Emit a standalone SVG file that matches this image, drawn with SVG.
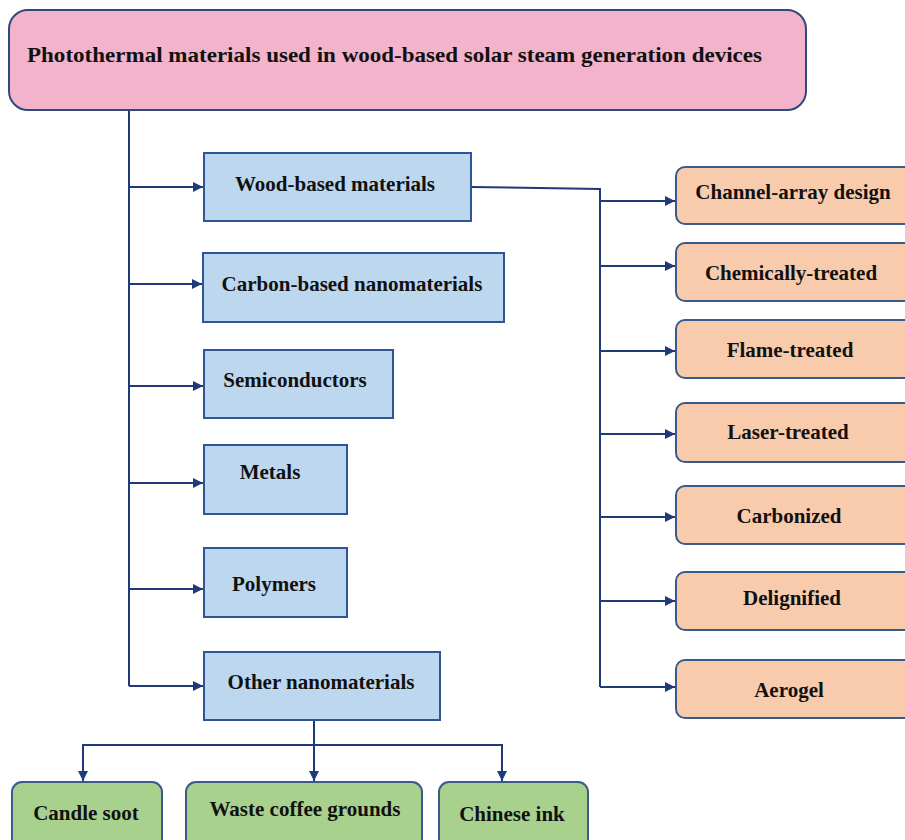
<svg xmlns="http://www.w3.org/2000/svg" width="905" height="840" viewBox="0 0 905 840">
<style>
text{font-family:"Liberation Serif","Times New Roman",serif;font-weight:bold;font-size:21px;fill:#111;text-anchor:middle}
.root{fill:#F2B3CB;stroke:#2E4A7D;stroke-width:2}
.blue{fill:#BDD7EE;stroke:#2F5597;stroke-width:2}
.orange{fill:#F8CBAD;stroke:#3A5A8C;stroke-width:2}
.green{fill:#A9D18E;stroke:#3A5A8C;stroke-width:2}
.con{fill:none;stroke:#1F3A78;stroke-width:2}
</style>
<defs>
<marker id="ah" viewBox="0 0 10 10" refX="10" refY="5" markerWidth="5" markerHeight="5" orient="auto" markerUnits="strokeWidth">
<path d="M0,0 L10,5 L0,10 z" fill="#1F3A78"/>
</marker>
</defs>
<rect width="905" height="840" fill="#fff"/>
<g id="connectors">
<path class="con" d="M129,111 V686"/>
<path class="con" d="M129,187 H203" marker-end="url(#ah)"/>
<path class="con" d="M129,284 H202" marker-end="url(#ah)"/>
<path class="con" d="M129,386 H203" marker-end="url(#ah)"/>
<path class="con" d="M129,483 H203" marker-end="url(#ah)"/>
<path class="con" d="M129,589 H203" marker-end="url(#ah)"/>
<path class="con" d="M129,686 H203" marker-end="url(#ah)"/>
<path class="con" d="M471,187 L600,189 V687"/>
<path class="con" d="M600,201 H675" marker-end="url(#ah)"/>
<path class="con" d="M600,266 H675" marker-end="url(#ah)"/>
<path class="con" d="M600,351 H675" marker-end="url(#ah)"/>
<path class="con" d="M600,434 H675" marker-end="url(#ah)"/>
<path class="con" d="M600,517 H675" marker-end="url(#ah)"/>
<path class="con" d="M600,601 H675" marker-end="url(#ah)"/>
<path class="con" d="M600,687 H675" marker-end="url(#ah)"/>
<path class="con" d="M314,720 V781" marker-end="url(#ah)"/>
<path class="con" d="M83,765 V745 H502 V765"/>
<path class="con" d="M83,760 V781" marker-end="url(#ah)"/>
<path class="con" d="M502,760 V781" marker-end="url(#ah)"/>
</g>
<g id="root">
<rect class="root" x="9" y="10" width="797" height="100" rx="19"/>
<text x="27" y="62" style="text-anchor:start" textLength="735" lengthAdjust="spacingAndGlyphs">Photothermal materials used in wood-based solar steam generation devices</text>
</g>
<g id="wood"><rect class="blue" x="204" y="153" width="267" height="68"/><text x="335" y="191">Wood-based materials</text></g>
<g id="carbon"><rect class="blue" x="203" y="253" width="301" height="69"/><text x="352" y="291">Carbon-based nanomaterials</text></g>
<g id="semi"><rect class="blue" x="204" y="350" width="189" height="68"/><text x="295" y="387">Semiconductors</text></g>
<g id="metals"><rect class="blue" x="204" y="445" width="143" height="69"/><text x="270" y="479">Metals</text></g>
<g id="polymers"><rect class="blue" x="204" y="548" width="143" height="69"/><text x="274" y="591">Polymers</text></g>
<g id="other"><rect class="blue" x="204" y="652" width="236" height="68"/><text x="321" y="689">Other nanomaterials</text></g>
<g id="channel"><rect class="orange" x="676" y="167" width="250" height="57" rx="9"/><text x="793" y="199">Channel-array design</text></g>
<g id="chem"><rect class="orange" x="676" y="243" width="250" height="58" rx="9"/><text x="791" y="280">Chemically-treated</text></g>
<g id="flame"><rect class="orange" x="676" y="320" width="250" height="58" rx="9"/><text x="790" y="357">Flame-treated</text></g>
<g id="laser"><rect class="orange" x="676" y="403" width="250" height="59" rx="9"/><text x="788" y="439">Laser-treated</text></g>
<g id="carbonized"><rect class="orange" x="676" y="486" width="250" height="58" rx="9"/><text x="789" y="523">Carbonized</text></g>
<g id="delig"><rect class="orange" x="676" y="572" width="250" height="58" rx="9"/><text x="792" y="605">Delignified</text></g>
<g id="aerogel"><rect class="orange" x="676" y="660" width="250" height="58" rx="9"/><text x="789" y="697">Aerogel</text></g>
<g id="candle"><rect class="green" x="12" y="782" width="150" height="70" rx="10"/><text x="86" y="820">Candle soot</text></g>
<g id="coffee"><rect class="green" x="186" y="782" width="236" height="70" rx="10"/><text x="305" y="816">Waste coffee grounds</text></g>
<g id="ink"><rect class="green" x="439" y="782" width="149" height="70" rx="10"/><text x="512" y="821">Chinese ink</text></g>
</svg>
